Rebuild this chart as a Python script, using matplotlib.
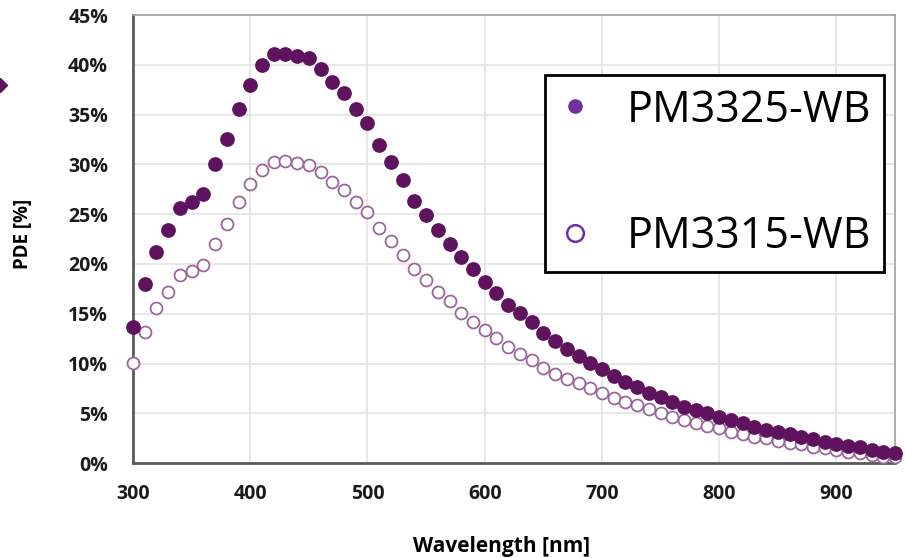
import matplotlib
matplotlib.use("Agg")
import matplotlib.pyplot as plt
from matplotlib.lines import Line2D
from matplotlib.ticker import FuncFormatter

# wavelength grid [nm]
wavelength = list(range(300, 960, 10))

# PDE [%]
pde_3325 = [13.7, 18.0, 21.2, 23.4, 25.6, 26.2, 27.0, 30.0, 32.6, 35.6,
            38.0, 40.0, 41.1, 41.1, 40.9, 40.7, 39.6, 38.3, 37.2, 35.6,
            34.2, 32.0, 30.2, 28.4, 26.3, 24.9, 23.4, 22.0, 20.7, 19.5,
            18.2, 17.1, 15.9, 15.1, 14.2, 13.1, 12.3, 11.5, 10.8, 10.1,
            9.5, 8.8, 8.1, 7.6, 7.0, 6.6, 6.1, 5.6, 5.3, 5.0,
            4.6, 4.3, 4.0, 3.6, 3.3, 3.1, 2.9, 2.6, 2.4, 2.1,
            1.9, 1.7, 1.6, 1.3, 1.1, 1.0]
pde_3315 = [10.1, 13.2, 15.6, 17.2, 18.9, 19.3, 19.9, 22.0, 24.0, 26.2,
            28.0, 29.4, 30.2, 30.3, 30.1, 29.9, 29.2, 28.2, 27.4, 26.2,
            25.2, 23.6, 22.3, 20.9, 19.5, 18.4, 17.2, 16.3, 15.1, 14.2,
            13.4, 12.6, 11.7, 11.0, 10.4, 9.6, 9.0, 8.5, 8.0, 7.5,
            7.0, 6.5, 6.1, 5.8, 5.4, 5.0, 4.6, 4.3, 4.0, 3.7,
            3.5, 3.1, 2.9, 2.6, 2.5, 2.2, 2.0, 1.9, 1.6, 1.5,
            1.3, 1.1, 1.0, 0.8, 0.6, 0.6]

x_ticks = [300, 400, 500, 600, 700, 800, 900]
y_ticks = [0, 5, 10, 15, 20, 25, 30, 35, 40, 45]
labels = ["PM3325-WB", "PM3315-WB"]

dark = "#5f135f"
light = "#9a679c"
legend_purple = "#7030a0"

plt.rcParams["font.family"] = ["Open Sans", "DejaVu Sans"]

fig = plt.figure(figsize=(9.05, 5.58), dpi=100)
ax = fig.add_axes([0.147, 0.170, 0.842, 0.803])

ax.plot(wavelength, pde_3315, linestyle="none", marker="o", markersize=8.6,
        markerfacecolor="white", markeredgecolor=light, markeredgewidth=1.3,
        clip_on=False, zorder=3)
ax.plot(wavelength, pde_3325, linestyle="none", marker="o", markersize=9.6,
        markerfacecolor=dark, markeredgecolor=dark, clip_on=False, zorder=4)

ax.set_xlim(300, 950)
ax.set_ylim(0, 45)
ax.set_xticks(x_ticks)
ax.set_yticks(y_ticks)
ax.yaxis.set_major_formatter(FuncFormatter(lambda v, p: f"{v:.0f}%"))
ax.grid(True, color="#e3e3e3", linewidth=1.2)
ax.set_axisbelow(True)
ax.tick_params(length=0, labelsize=14, colors="#1a1a1a")
ax.tick_params(axis="y", pad=18)
ax.tick_params(axis="x", pad=15)
for lab in ax.get_xticklabels() + ax.get_yticklabels():
    lab.set_fontweight("bold")

for side in ["left", "bottom"]:
    ax.spines[side].set_color("#595959")
    ax.spines[side].set_linewidth(2)
for side in ["top", "right"]:
    ax.spines[side].set_color("#a0a0a0")
    ax.spines[side].set_linewidth(1.2)

ax.set_xlabel("Wavelength [nm]", fontsize=15, fontweight="bold")
ax.xaxis.set_label_coords(0.483, -0.163)
ax.set_ylabel("PDE [%]", fontsize=13.5, fontweight="bold")
ax.yaxis.set_label_coords(-0.131, 0.511)

handles = [
    Line2D([], [], linestyle="none", marker="o", markersize=9.5,
           markerfacecolor=legend_purple, markeredgecolor=legend_purple),
    Line2D([], [], linestyle="none", marker="o", markersize=12,
           markerfacecolor="white", markeredgecolor=legend_purple,
           markeredgewidth=1.8),
]
leg = ax.legend(handles, labels, loc="upper right",
                bbox_to_anchor=(0.986, 0.866), fontsize=31,
                frameon=True, fancybox=False, framealpha=1,
                edgecolor="black", labelspacing=1.9, handletextpad=0.81,
                borderpad=0.3, handlelength=0.79, borderaxespad=0)
leg.get_frame().set_linewidth(2)

# cut-off diamond at the left edge of the slide
fig.add_artist(Line2D([0.0], [0.848], marker="D", markersize=7, color=dark,
                      transform=fig.transFigure, clip_on=False))

fig.savefig("out.png", dpi=100)
